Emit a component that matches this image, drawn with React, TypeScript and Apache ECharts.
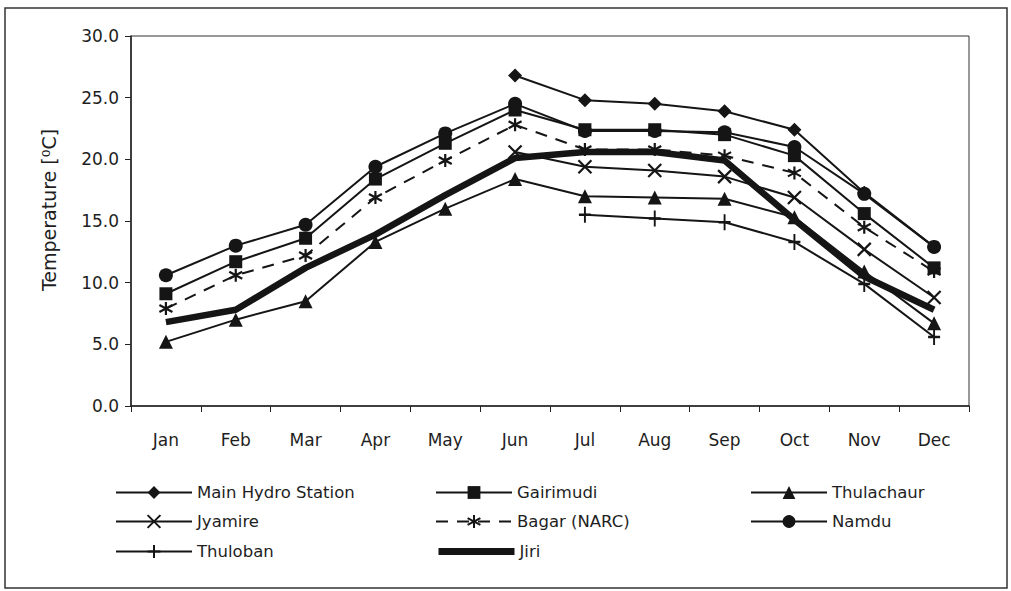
import React, { useEffect, useRef } from "react";
import * as echarts from "echarts";

const months = ["Jan", "Feb", "Mar", "Apr", "May", "Jun", "Jul", "Aug", "Sep", "Oct", "Nov", "Dec"];
const yTicks = [0, 5, 10, 15, 20, 25, 30];

const mainHydro = [null, null, null, null, null, 26.8, 24.8, 24.5, 23.9, 22.4, 17.3, 12.9];
const gairimudi = [9.1, 11.7, 13.6, 18.4, 21.3, 24.0, 22.4, 22.4, 22.0, 20.3, 15.6, 11.2];
const thulachaur = [5.2, 7.0, 8.5, 13.3, 16.0, 18.4, 17.0, 16.9, 16.8, 15.3, 10.9, 6.7];
const jyamire = [null, null, null, null, null, 20.6, 19.4, 19.1, 18.6, 16.9, 12.7, 8.8];
const bagar = [7.9, 10.6, 12.2, 16.9, 19.9, 22.8, 20.8, 20.8, 20.3, 18.9, 14.5, 10.9];
const namdu = [10.6, 13.0, 14.7, 19.4, 22.1, 24.5, 22.3, 22.3, 22.2, 21.0, 17.2, 12.9];
const thuloban = [null, null, null, null, null, null, 15.5, 15.2, 14.9, 13.3, 9.9, 5.6];
const jiri = [6.8, 7.8, 11.2, 13.9, 17.1, 20.1, 20.6, 20.6, 19.9, 15.1, 10.5, 7.8];

const FONT = "DejaVu Sans";
const INK = "#151515";
const X_PATH = "path://M0,0L13,13M13,0L0,13";
const AST_PATH = "path://M6.5,0L6.5,13M0,3L13,10M0,10L13,3";
const PLUS_PATH = "path://M6,0L6,16M0,8L12,8";

type Def = { name: string; data: (number | null)[]; symbol: string; size: number | number[]; stroke?: boolean; dashed?: boolean; thick?: boolean };

const defs: Def[] = [
  { name: "Jiri", data: jiri, symbol: "circle", size: 0, thick: true },
  { name: "Main Hydro Station", data: mainHydro, symbol: "diamond", size: 14 },
  { name: "Gairimudi", data: gairimudi, symbol: "rect", size: 13 },
  { name: "Thulachaur", data: thulachaur, symbol: "triangle", size: 14 },
  { name: "Jyamire", data: jyamire, symbol: X_PATH, size: 13, stroke: true },
  { name: "Bagar (NARC)", data: bagar, symbol: AST_PATH, size: 13, stroke: true, dashed: true },
  { name: "Namdu", data: namdu, symbol: "circle", size: 14 },
  { name: "Thuloban", data: thuloban, symbol: PLUS_PATH, size: [12, 16], stroke: true },
];

const legendPos: { name: string; left: number; row: number }[] = [
  { name: "Main Hydro Station", left: 115, row: 0 },
  { name: "Gairimudi", left: 435, row: 0 },
  { name: "Thulachaur", left: 750, row: 0 },
  { name: "Jyamire", left: 115, row: 1 },
  { name: "Bagar (NARC)", left: 435, row: 1 },
  { name: "Namdu", left: 750, row: 1 },
  { name: "Thuloban", left: 115, row: 2 },
  { name: "Jiri", left: 435, row: 2 },
];
const rowCenters = [492, 521, 551];

export default function App() {
  const ref = useRef<HTMLDivElement>(null);
  useEffect(() => {
    document.body.style.margin = "0";
    if (!ref.current) return;
    const chart = echarts.init(ref.current, null, { renderer: "svg" });
    const series = defs.map((d) => ({
      name: d.name,
      type: "line",
      data: d.data,
      symbol: d.symbol,
      symbolSize: d.size,
      showSymbol: !d.thick,
      showAllSymbol: true,
      connectNulls: false,
      z: d.thick ? 1 : 2,
      lineStyle: { color: INK, width: d.thick ? 6.5 : 2, type: d.dashed ? [12, 9] : "solid" },
      itemStyle: { color: INK, borderColor: INK, borderWidth: d.stroke ? 2.2 : 0 },
      emphasis: { disabled: true },
    }));
    const legends = legendPos.map((p) => ({
      data: [p.name],
      left: p.left,
      top: rowCenters[p.row] - 8,
      padding: 0,
      itemWidth: 76,
      itemHeight: 16,
      selectedMode: false,
      textStyle: { fontFamily: FONT, fontSize: 16.5, color: "#1e1e1e" },
      ...(p.name === "Jiri"
        ? { lineStyle: { width: 7 }, itemStyle: { opacity: 0, color: "transparent", borderColor: "transparent" } }
        : {}),
    }));
    chart.setOption({
      animation: false,
      backgroundColor: "#ffffff",
      textStyle: { fontFamily: FONT },
      grid: { left: 131, right: 42, top: 36, bottom: 185, show: true, borderColor: "#333", borderWidth: 1, backgroundColor: "transparent" },
      xAxis: {
        type: "category",
        data: months,
        boundaryGap: true,
        axisLine: { lineStyle: { color: "#222", width: 1.5 } },
        axisTick: { show: true, length: 6, lineStyle: { color: "#222" } },
        axisLabel: { fontFamily: FONT, fontSize: 17, color: "#1e1e1e", margin: 25 },
      },
      yAxis: {
        type: "value",
        min: yTicks[0],
        max: yTicks[yTicks.length - 1],
        interval: 5,
        name: "Temperature [⁰C]",
        nameLocation: "middle",
        nameGap: 73,
        nameTextStyle: { fontFamily: FONT, fontSize: 19, color: "#1e1e1e", padding: [0, 0, 0, 22] },
        axisLine: { show: true, lineStyle: { color: "#222", width: 1.5 } },
        axisTick: { show: true, length: 6, lineStyle: { color: "#222" } },
        splitLine: { show: false },
        axisLabel: { fontFamily: FONT, fontSize: 17, color: "#1e1e1e", margin: 12, formatter: (v: number) => v.toFixed(1) },
      },
      legend: legends,
      series,
      graphic: [
        {
          type: "rect",
          shape: { x: 5, y: 8, width: 1002, height: 580 },
          style: { fill: "none", stroke: "#333", lineWidth: 1.5 },
          silent: true,
        },
      ],
    });
    return () => chart.dispose();
  }, []);
  return <div ref={ref} style={{ width: 1011, height: 591 }} />;
}
